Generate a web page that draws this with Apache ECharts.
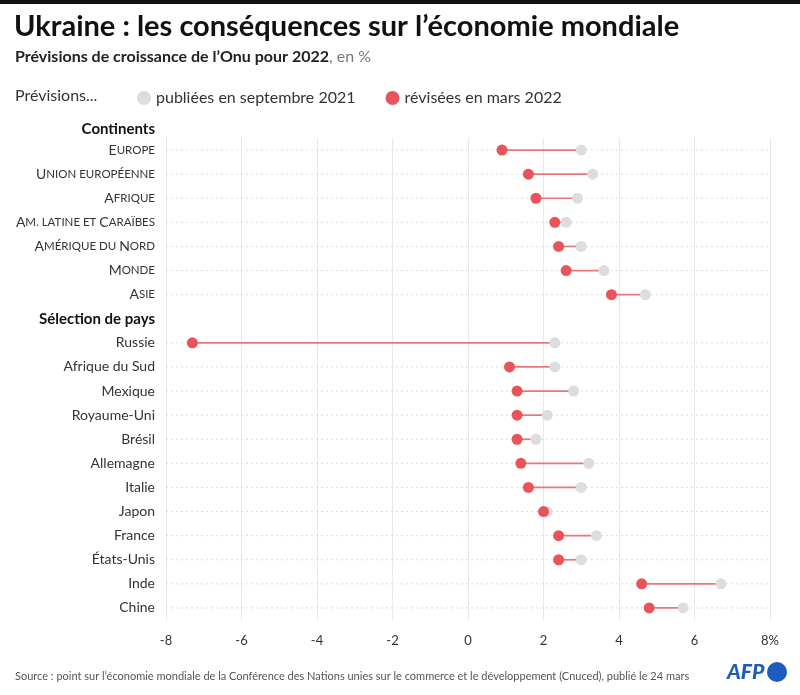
<!DOCTYPE html>
<html><head><meta charset="utf-8">
<script src="https://cdn.jsdelivr.net/npm/echarts@6/dist/echarts.min.js"></script>
<style>html,body{margin:0;padding:0;background:#fff}#c{width:800px;height:695px}</style>
</head><body><div id="c"></div><script>
const FONT = 'Lato';
const categories = ['Europe','Union européenne','Afrique','Am. latine et Caraïbes','Amérique du Nord','Monde','Asie','Sélection de pays','Russie','Afrique du Sud','Mexique','Royaume-Uni','Brésil','Allemagne','Italie','Japon','France','États-Unis','Inde','Chine'];
const smallCapsRows = ['Europe','Union européenne','Afrique','Am. latine et Caraïbes','Amérique du Nord','Monde','Asie'];
const headerRows = ['Sélection de pays'];
const sept2021 = [3.0,3.3,2.9,2.6,3.0,3.6,4.7,null,2.3,2.3,2.8,2.1,1.8,3.2,3.0,2.1,3.4,3.0,6.7,5.7];
const mars2022 = [0.9,1.6,1.8,2.3,2.4,2.6,3.8,null,-7.3,1.1,1.3,1.3,1.3,1.4,1.6,2.0,2.4,2.4,4.6,4.8];
const seriesNames = ['publiées en septembre 2021','révisées en mars 2022'];
const xMin = -8, xMax = 8, xStep = 2;

function smallCaps(s){
  let out = '', cur = null, buf = '';
  for (const ch of s){
    const isUp = ch !== ch.toLowerCase() && ch === ch.toUpperCase();
    const st = isUp ? 'b' : 's';
    const c = isUp ? ch : ch.toUpperCase();
    if (st !== cur){ if (cur) out += '{' + cur + '|' + buf + '}'; cur = st; buf = ''; }
    buf += c;
  }
  if (cur) out += '{' + cur + '|' + buf + '}';
  return out;
}

const rows = categories.map((c,i)=>({c,i})).filter(r => sept2021[r.i] !== null);
const chart = echarts.init(document.getElementById('c'));
chart.setOption({
  backgroundColor:'#fff',
  textStyle:{fontFamily:FONT},
  animation:false,
  grid:{left:166, right:30, top:138, height:482},
  legend:{
    data:seriesNames, left:132, top:85, icon:'circle', itemWidth:14, itemHeight:14, itemGap:30,
    textStyle:{fontSize:16, color:'#333', fontFamily:FONT}, selectedMode:false
  },
  xAxis:{
    type:'value', min:xMin, max:xMax, interval:xStep,
    axisLine:{show:false}, axisTick:{show:false},
    splitLine:{show:true, lineStyle:{color:'#e8e8e8', width:1}},
    axisLabel:{color:'#333', fontSize:13, margin:14, fontFamily:FONT,
      formatter:v => v === xMax ? v + '%' : String(v)}
  },
  yAxis:{
    type:'category', inverse:true, data:categories,
    axisLine:{show:false}, axisTick:{show:false}, splitLine:{show:false},
    axisLabel:{
      margin:11, color:'#333', fontSize:14, fontFamily:FONT,
      formatter:v => smallCapsRows.includes(v) ? smallCaps(v) : (headerRows.includes(v) ? '{h|' + v + '}' : v),
      rich:{
        b:{fontSize:14, color:'#333', fontFamily:FONT},
        s:{fontSize:11.5, color:'#333', fontFamily:FONT},
        h:{fontSize:15, fontWeight:'bold', color:'#111', fontFamily:FONT}
      }
    }
  },
  series:[
    {
      type:'custom', silent:true, z:2,
      dimensions:['sept','mars','row'],
      data: rows.map(r => [sept2021[r.i], mars2022[r.i], r.i]),
      encode:{x:[0,1], y:2},
      renderItem:(params, api) => {
        const y = api.value(2);
        const l = api.coord([xMin, y]);
        const rr = api.coord([xMax, y]);
        const a = api.coord([api.value(0), y]);
        const b = api.coord([api.value(1), y]);
        return {type:'group', children:[
          {type:'line', shape:{x1:l[0], y1:l[1], x2:rr[0], y2:rr[1]}, style:{stroke:'#dcdcdc', lineWidth:1, lineDash:[2,3]}},
          {type:'line', shape:{x1:a[0], y1:a[1], x2:b[0], y2:b[1]}, style:{stroke:'#e8777a', lineWidth:1.7}}
        ]};
      }
    },
    {
      name:seriesNames[0], type:'scatter', symbolSize:11, z:3,
      itemStyle:{color:'#dddddd', opacity:1},
      data: rows.map(r => [sept2021[r.i], r.i])
    },
    {
      name:seriesNames[1], type:'scatter', symbolSize:11, z:4,
      itemStyle:{color:'#e8545a', opacity:1},
      data: rows.map(r => [mars2022[r.i], r.i])
    }
  ],
  graphic:[
    {type:'rect', shape:{x:0, y:0, width:800, height:4}, style:{fill:'#111'}},
    {type:'text', x:14, y:12, style:{text:'Ukraine : les conséquences sur l’économie mondiale', fontSize:29, fontWeight:'bold', fill:'#111', fontFamily:FONT}},
    {type:'text', x:15, y:49, style:{text:'{b|Prévisions de croissance de l’Onu pour 2022}{n|, en %}', rich:{b:{fontSize:16, fontWeight:'bold', fill:'#222', fontFamily:FONT}, n:{fontSize:16, fill:'#777', fontFamily:FONT}}}},
    {type:'text', x:15, y:88, style:{text:'Prévisions...', fontSize:16, fill:'#333', fontFamily:FONT}},
    {type:'text', x:155, y:129, style:{text:'Continents', fontSize:15, fontWeight:'bold', fill:'#111', align:'right', verticalAlign:'middle', fontFamily:FONT}},
    {type:'text', x:15, y:676, style:{text:'Source : point sur l’économie mondiale de la Conférence des Nations unies sur le commerce et le développement (Cnuced), publié le 24 mars', fontSize:11, fill:'#555', verticalAlign:'middle', fontFamily:FONT}},
    {type:'text', x:727, y:672, style:{text:'AFP', fontSize:21, fontWeight:900, fontStyle:'italic', fill:'#1d5bbf', verticalAlign:'middle', fontFamily:FONT}},
    {type:'circle', shape:{cx:777, cy:672, r:10}, style:{fill:'#1d5bbf'}}
  ]
});
</script></body></html>
